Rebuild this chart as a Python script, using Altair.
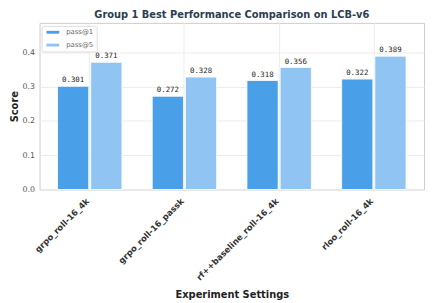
import altair as alt
import pandas as pd

categories = ["grpo_roll-16_4k", "grpo_roll-16_passk", "rf++baseline_roll-16_4k", "rloo_roll-16_4k"]
pass1 = [0.301, 0.272, 0.318, 0.322]
pass5 = [0.371, 0.328, 0.356, 0.389]
metrics = ["pass@1", "pass@5"]
colors = ["#4aa0e8", "#90c4f2"]
y_ticks = [0.0, 0.1, 0.2, 0.3, 0.4]

rows = []
for c, a, b in zip(categories, pass1, pass5):
    rows.append({"cat": c, "metric": "pass@1", "value": a, "label": f"{a:.3f}"})
    rows.append({"cat": c, "metric": "pass@5", "value": b, "label": f"{b:.3f}"})
df = pd.DataFrame(rows)

x = alt.X("cat:N", sort=categories, title="Experiment Settings",
          scale=alt.Scale(paddingInner=0.32, paddingOuter=0.19),
          axis=alt.Axis(labelAngle=-45, labelAlign="right", labelBaseline="top",
                        labelFont="DejaVu Sans", labelFontWeight="bold", labelFontSize=8.5,
                        labelColor="#333333", grid=True, bandPosition=0.5, tickSize=0,
                        domain=False, labelPadding=7, labelOffset=-5, titleFont="DejaVu Sans",
                        titleFontWeight="bold", titleFontSize=10, titleColor="#222222",
                        titlePadding=8, gridColor="#ececec"))
y = alt.Y("value:Q", title="Score",
          scale=alt.Scale(domain=[0, 0.486], nice=False),
          axis=alt.Axis(values=y_ticks, format=".1f", labelFont="DejaVu Sans",
                        labelFontSize=8, labelColor="#555555", tickSize=0, domain=False,
                        labelPadding=5, titleFont="DejaVu Sans", titleFontWeight="bold",
                        titleFontSize=10, titleColor="#222222", titlePadding=3,
                        gridColor="#ececec"))
xo = alt.XOffset("metric:N", sort=metrics, scale=alt.Scale(paddingInner=0.06))

bars = alt.Chart(df).mark_bar(stroke="white", strokeWidth=0.8).encode(
    x=x, y=y, xOffset=xo,
    color=alt.Color("metric:N", sort=metrics,
                    scale=alt.Scale(domain=metrics, range=colors),
                    legend=alt.Legend(title=None, orient="none", legendX=2, legendY=3,
                                      symbolType="M-2,-0.45H2V0.45H-2Z", symbolSize=42,
                                      symbolOffset=5, labelOffset=10,
                                      labelFont="DejaVu Sans", labelFontSize=7,
                                      labelColor="#666666", strokeColor="#dddddd",
                                      fillColor="white", padding=3, cornerRadius=2,
                                      rowPadding=5, symbolStrokeWidth=0)),
)
texts = alt.Chart(df).mark_text(dy=-2, font="DejaVu Sans Mono", fontSize=7.5,
                                color="#222222", baseline="bottom").encode(
    x=x, y=y, xOffset=xo, text="label:N")

chart = alt.layer(bars, texts).properties(
    width=390, height=169,
    autosize=alt.AutoSizeParams(type="none"),
    padding={"left": 32, "top": 13, "right": 4, "bottom": 113},
    title=alt.TitleParams("Group 1 Best Performance Comparison on LCB-v6",
                          font="DejaVu Sans", fontSize=10, fontWeight="bold",
                          color="#2c3e50", offset=3),
).configure_view(stroke="#cccccc", strokeWidth=1)

chart.save("out.html", embed_options={"renderer": "svg", "actions": False})
